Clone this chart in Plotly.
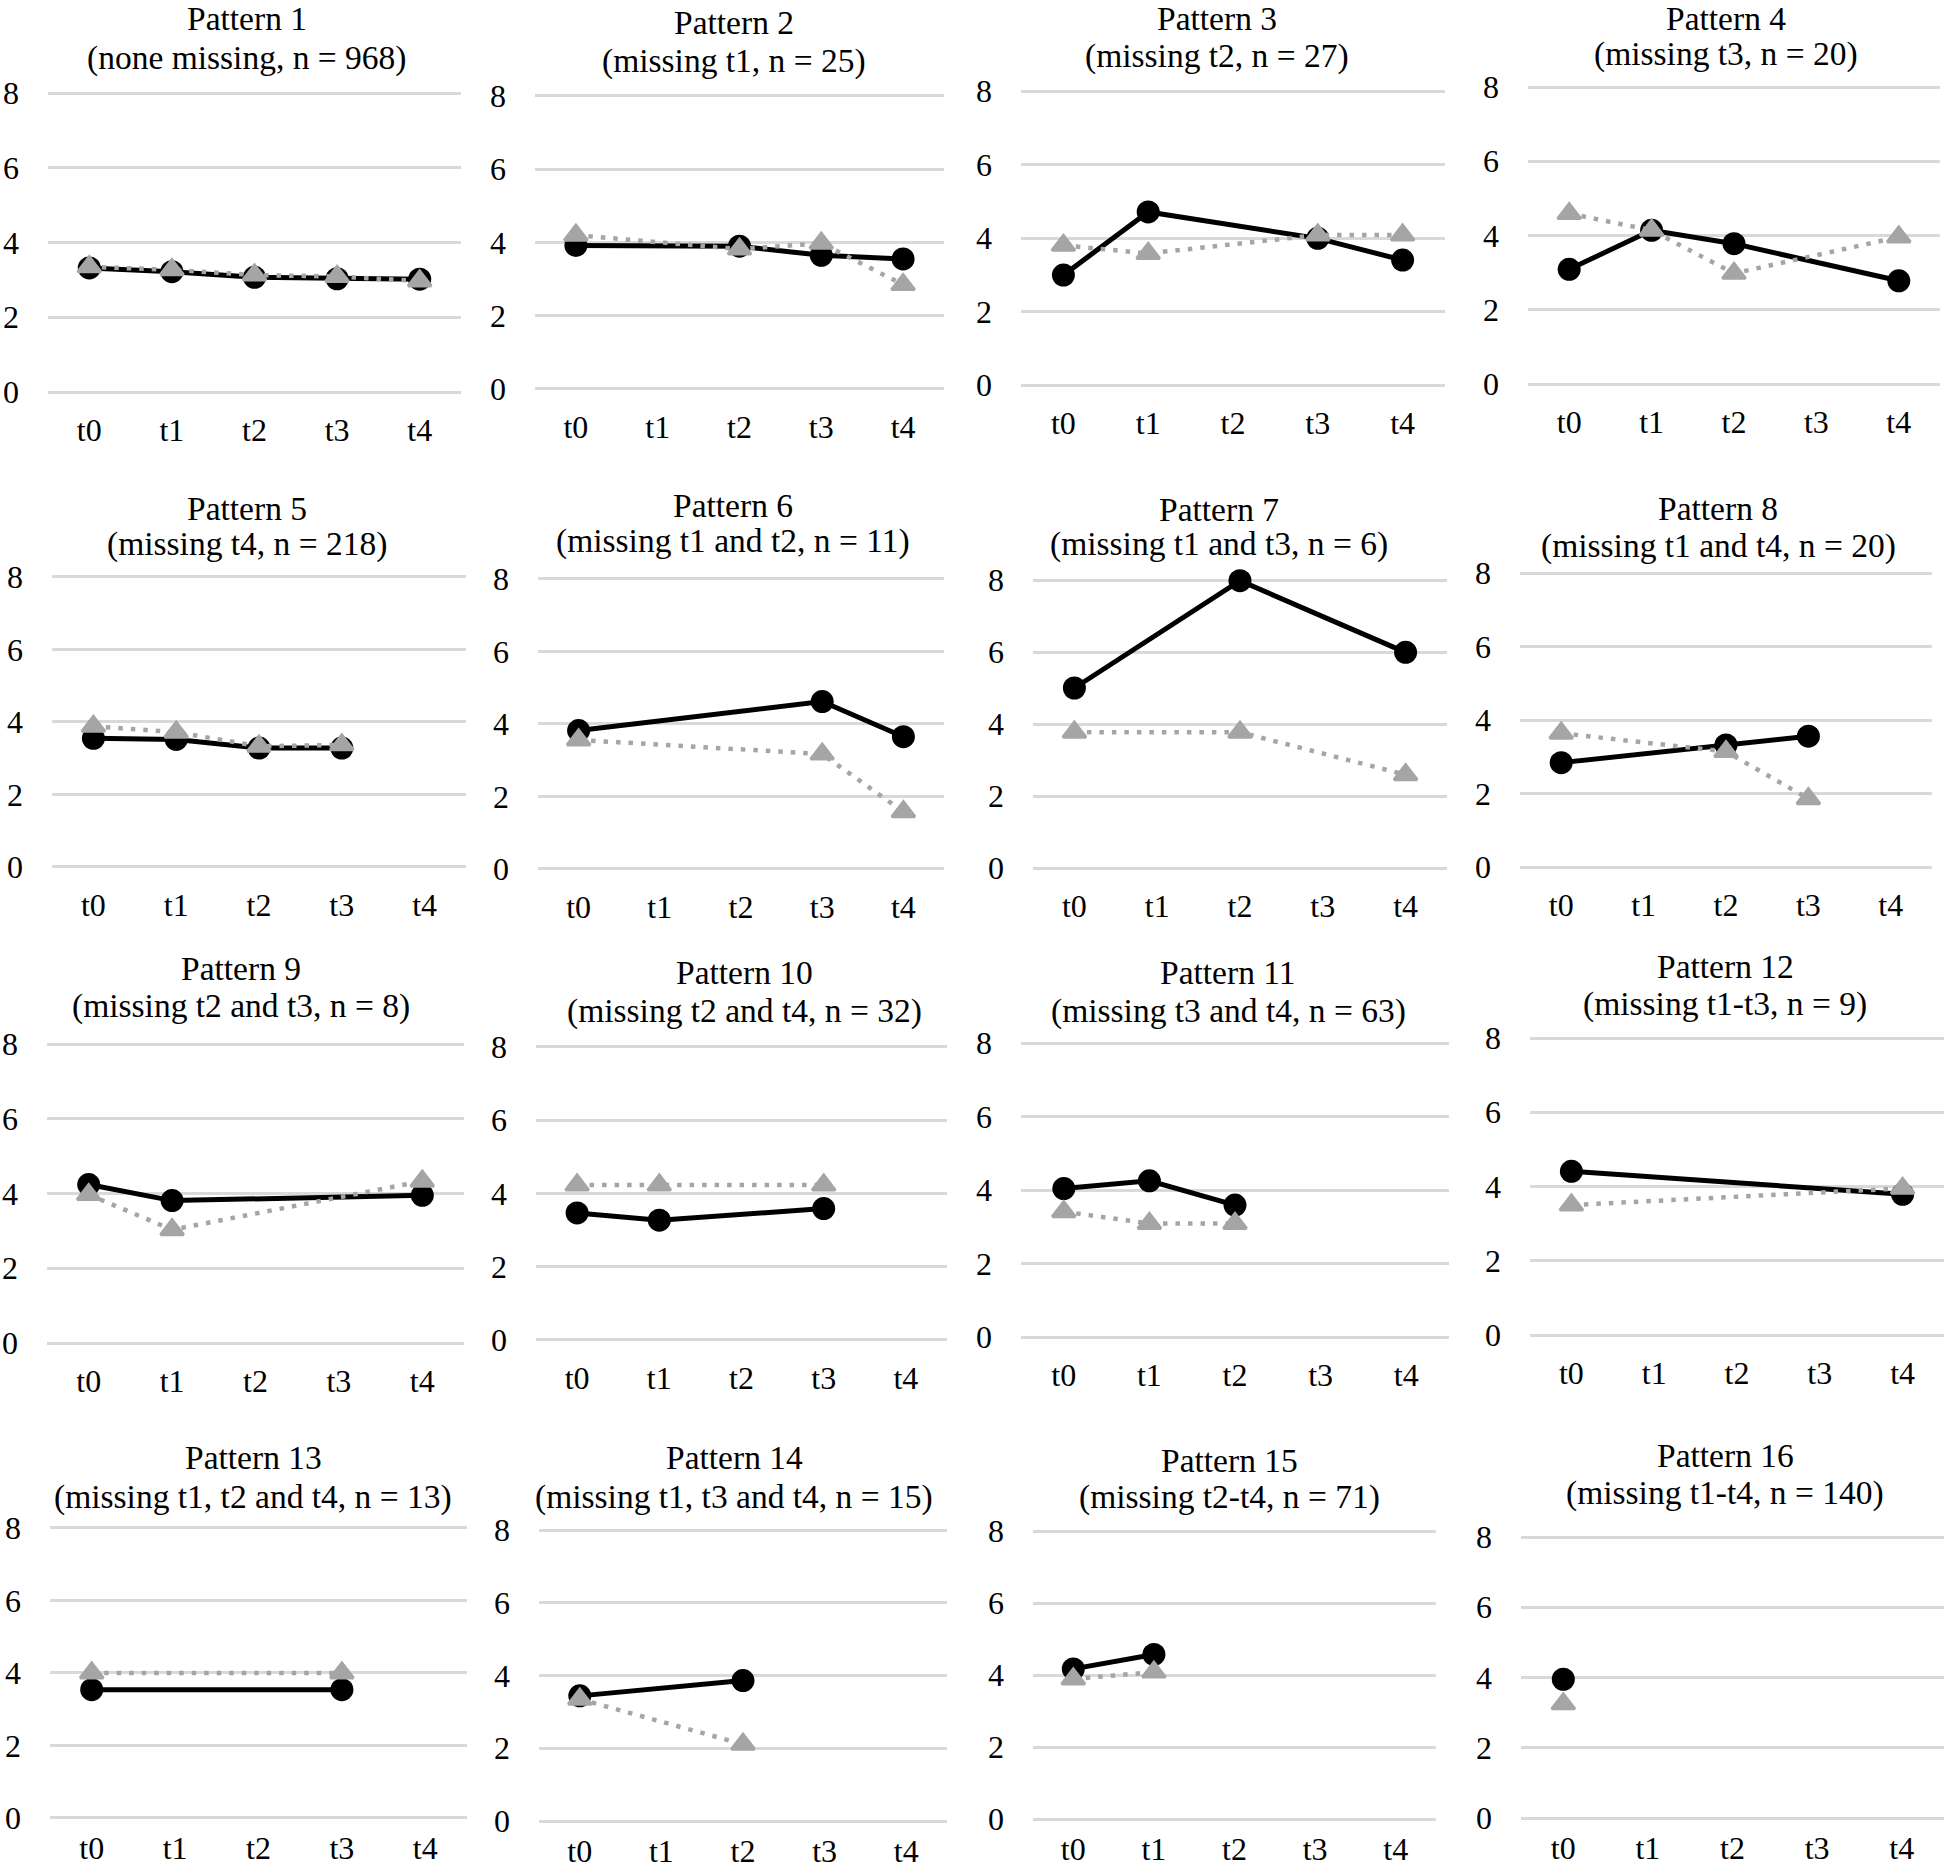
import plotly.graph_objects as go

# ---------------- data ----------------
times = ["t0", "t1", "t2", "t3", "t4"]
y_ticks = [0, 2, 4, 6, 8]

pattern_titles = [f"Pattern {i}" for i in range(1, 17)]
pattern_subtitles = [
    "(none missing, n = 968)",
    "(missing t1, n = 25)",
    "(missing t2, n = 27)",
    "(missing t3, n = 20)",
    "(missing t4, n = 218)",
    "(missing t1 and t2, n = 11)",
    "(missing t1 and t3, n = 6)",
    "(missing t1 and t4, n = 20)",
    "(missing t2 and t3, n = 8)",
    "(missing t2 and t4, n = 32)",
    "(missing t3 and t4, n = 63)",
    "(missing t1-t3, n = 9)",
    "(missing t1, t2 and t4, n = 13)",
    "(missing t1, t3 and t4, n = 15)",
    "(missing t2-t4, n = 71)",
    "(missing t1-t4, n = 140)",
]

# black solid line with circles
solid_p1 = [3.32, 3.22, 3.07, 3.03, 3.02]
solid_p2 = [3.92, None, 3.9, 3.65, 3.55]
solid_p3 = [2.99, 4.71, None, 3.99, 3.40]
solid_p4 = [3.09, 4.14, 3.78, None, 2.78]
solid_p5 = [3.55, 3.52, 3.28, 3.28, None]
solid_p6 = [3.82, None, None, 4.62, 3.65]
solid_p7 = [5.0, None, 7.98, None, 5.99]
solid_p8 = [2.84, None, 3.32, 3.56, None]
solid_p9 = [4.24, 3.81, None, None, 3.95]
solid_p10 = [3.47, 3.27, None, 3.59, None]
solid_p11 = [4.04, 4.25, 3.59, None, None]
solid_p12 = [4.41, None, None, None, 3.79]
solid_p13 = [3.54, None, None, 3.54, None]
solid_p14 = [3.44, None, 3.86, None, None]
solid_p15 = [4.17, 4.57, None, None, None]
solid_p16 = [3.95, None, None, None, None]

# grey dotted line with triangles
dotted_p1 = [3.35, 3.27, 3.13, 3.09, 2.97]
dotted_p2 = [4.2, None, 3.82, 3.98, 2.85]
dotted_p3 = [3.80, 3.58, None, 4.08, 4.08]
dotted_p4 = [4.59, 4.14, 2.98, None, 3.96]
dotted_p5 = [3.88, 3.72, 3.33, 3.37, None]
dotted_p6 = [3.56, None, None, 3.17, 1.58]
dotted_p7 = [3.77, None, 3.77, None, 2.59]
dotted_p8 = [3.64, None, 3.14, 1.86, None]
dotted_p9 = [3.97, 3.03, None, None, 4.33]
dotted_p10 = [4.23, 4.23, None, 4.23, None]
dotted_p11 = [3.41, 3.09, 3.09, None, None]
dotted_p12 = [3.50, None, None, None, 3.95]
dotted_p13 = [4.0, None, None, 4.0, None]
dotted_p14 = [3.35, None, 2.11, None, None]
dotted_p15 = [3.89, 4.08, None, None, None]
dotted_p16 = [3.25, None, None, None, None]

solid_series = [solid_p1, solid_p2, solid_p3, solid_p4, solid_p5, solid_p6, solid_p7, solid_p8,
                solid_p9, solid_p10, solid_p11, solid_p12, solid_p13, solid_p14, solid_p15, solid_p16]
dotted_series = [dotted_p1, dotted_p2, dotted_p3, dotted_p4, dotted_p5, dotted_p6, dotted_p7, dotted_p8,
                 dotted_p9, dotted_p10, dotted_p11, dotted_p12, dotted_p13, dotted_p14, dotted_p15, dotted_p16]

# ---------------- layout geometry (pixels) ----------------
W, H = 1944, 1874
# plot boxes: left, right, y of gridline 8 (top), y of gridline 0 (bottom)
boxes = [
    (48, 461, 93, 392), (535, 944, 96, 389), (1021, 1445, 91, 385), (1528, 1940, 87, 384),
    (52, 466, 577, 867), (538, 944, 579, 869), (1033, 1447, 580, 868), (1520, 1932, 573, 867),
    (47, 464, 1044, 1343), (536, 947, 1047, 1340), (1021, 1449, 1043, 1337), (1530, 1944, 1038, 1335),
    (50, 467, 1528, 1818), (539, 947, 1530, 1821), (1033, 1436, 1531, 1819), (1521, 1944, 1537, 1818),
]
# title block centres (x, y of first line, y of second line)
title_pos = [
    (247, 18, 57), (734, 21, 60), (1217, 18, 55), (1726, 18, 53),
    (247, 507, 543), (733, 504, 540), (1219, 508, 543), (1718, 507, 545),
    (241, 967, 1005), (744, 972, 1010), (1228, 972, 1010), (1725, 966, 1003),
    (253, 1456, 1496), (734, 1456, 1496), (1229, 1459, 1496), (1725, 1454, 1492),
]

FONT = "Liberation Serif, Times New Roman, serif"
GRID = "#d9d9d9"
GREY = "#a5a5a5"
PAD = 0.05  # small range padding so that the 0 and 8 gridlines are drawn
TITLE_SIZE = 33.5
TEXT_SHIFT = 1

fig = go.Figure()
layout = dict(
    width=W, height=H, autosize=False,
    margin=dict(l=0, r=0, t=0, b=0, pad=0),
    paper_bgcolor="white", plot_bgcolor="white",
    showlegend=False,
    font=dict(family=FONT, color="black"),
    annotations=[],
)

for i in range(16):
    left, right, top, bottom = boxes[i]
    unit = (bottom - top) / 8.0
    dom_top = top - PAD * unit
    dom_bot = bottom + PAD * unit
    sfx = "" if i == 0 else str(i + 1)
    xa, ya = "x" + sfx, "y" + sfx
    layout["xaxis" + sfx] = dict(
        domain=[left / W, min(right / W, 1.0)], anchor=ya, automargin=False,
        type="category", categoryorder="array", categoryarray=times,
        range=[-0.5, 4.5], showgrid=False, zeroline=False, showline=False,
        ticks="", tickfont=dict(family=FONT, size=32, color="black"),
        ticklabelstandoff=14 if i < 12 else 6, fixedrange=True,
    )
    layout["yaxis" + sfx] = dict(
        domain=[1 - dom_bot / H, 1 - dom_top / H], anchor=xa, automargin=False,
        range=[-PAD, 8 + PAD], tickvals=y_ticks, showgrid=True, gridcolor=GRID, gridwidth=2.5,
        zeroline=False, showline=False,
        ticks="", tickfont=dict(family=FONT, size=32, color="black"),
        ticklabelstandoff=28, fixedrange=True,
    )
    fig.add_trace(go.Scatter(
        x=times, y=solid_series[i], xaxis=xa, yaxis=ya, mode="lines+markers",
        connectgaps=True, cliponaxis=False,
        line=dict(color="black", width=5),
        marker=dict(symbol="circle", size=23, color="black"),
    ))
    fig.add_trace(go.Scatter(
        x=times, y=dotted_series[i], xaxis=xa, yaxis=ya, mode="lines+markers",
        connectgaps=True, cliponaxis=False,
        line=dict(color=GREY, width=4.5, dash="4.5px,8px"),
        marker=dict(symbol="triangle-up", size=20, color=GREY,
                    line=dict(color=GREY, width=3)),
    ))
    cx, y1, y2 = title_pos[i]
    for txt, ty in ((pattern_titles[i], y1), (pattern_subtitles[i], y2)):
        layout["annotations"].append(dict(
            xref="paper", yref="paper", x=cx / W, y=1 - (ty + TEXT_SHIFT) / H,
            xanchor="center", yanchor="middle", showarrow=False,
            text=txt, font=dict(family=FONT, size=TITLE_SIZE, color="black"),
        ))

fig.update_layout(**layout)
fig.write_html("out.html", config={"displayModeBar": False},
               post_script="document.body.style.margin='0';")
